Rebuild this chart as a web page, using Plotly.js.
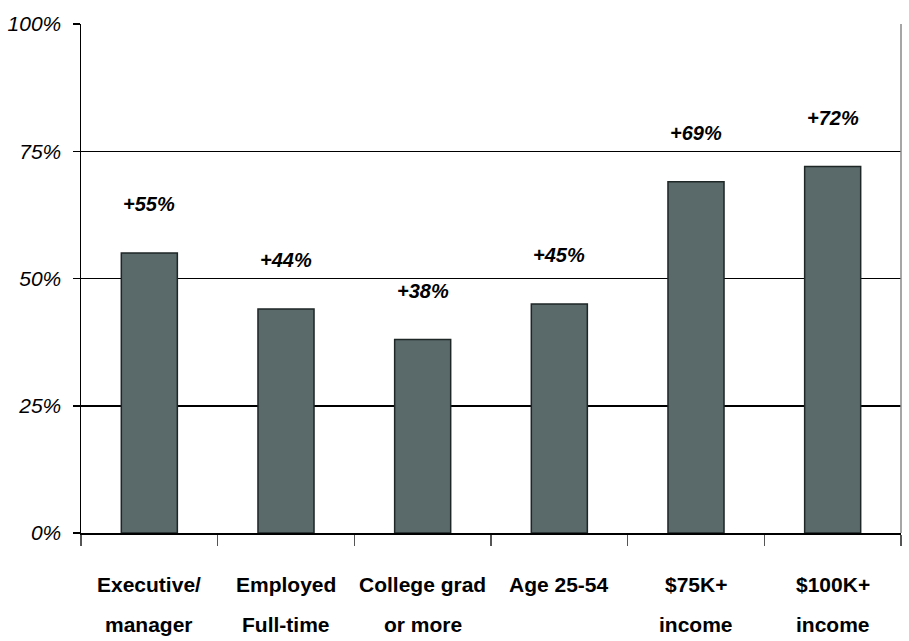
<!DOCTYPE html>
<html>
<head>
<meta charset="utf-8">
<script src="https://cdn.plot.ly/plotly-3.0.1.min.js"></script>
<style>html,body{margin:0;padding:0;background:#fff;}#chart{width:909px;height:641px;}</style>
</head>
<body>
<div id="chart"></div>
<script>
const categories = ["Executive/<br>manager", "Employed<br>Full-time", "College grad<br>or more", "Age 25-54", "$75K+<br>income", "$100K+<br>income"];
const values = [55, 44, 38, 45, 69, 72];
const yTickVals = [0, 25, 50, 75, 100];
const yTickText = ["0%", "25%", "50%", "75%", "100%"];

const FONT = "'Liberation Sans', Arial, sans-serif";

const trace = {
  type: "bar",
  x: categories,
  y: values,
  marker: {color: "#5a6a6b", line: {color: "#1e2626", width: 1.5}},
  hoverinfo: "none"
};

const annotations = values.map((v, i) => ({
  x: categories[i], y: v, xref: "x", yref: "y",
  text: "<b><i>+" + v + "%</i></b>",
  showarrow: false, yanchor: "middle", yshift: 49,
  font: {family: FONT, size: 20, color: "#000"}
}));

// category labels as two lines with wider line spacing
categories.forEach((c) => {
  c.split("<br>").forEach((line, k) => {
    annotations.push({
      x: c, y: 0, xref: "x", yref: "paper",
      text: "<b>" + line + "</b>",
      showarrow: false, yanchor: "middle", yshift: -51 - 40 * k,
      font: {family: FONT, size: 21, color: "#000"}
    });
  });
});

const layout = {
  width: 909, height: 641,
  margin: {l: 81, r: 8, t: 24, b: 108},
  paper_bgcolor: "#fff", plot_bgcolor: "#fff",
  showlegend: false,
  bargap: 0.59,
  xaxis: {
    type: "category",
    tickson: "boundaries",
    ticks: "outside", ticklen: 11, tickcolor: "#555", tickwidth: 1.5,
    showline: true, linecolor: "#000", linewidth: 2,
    showgrid: false, zeroline: false,
    showticklabels: false,
    fixedrange: true
  },
  yaxis: {
    range: [0, 100],
    tickvals: yTickVals, ticktext: yTickText,
    ticks: "outside", ticklen: 7, tickcolor: "#000", tickwidth: 1.5,
    showline: true, linecolor: "#000", linewidth: 1.5,
    showgrid: true, gridcolor: "#000", gridwidth: 1.5,
    zeroline: false,
    tickfont: {family: FONT, size: 21, color: "#000", style: "italic"},
    ticklabelstandoff: 7,
    fixedrange: true
  },
  shapes: [
    {type: "line", xref: "paper", yref: "paper", x0: 1, x1: 1, y0: 0, y1: 1, line: {color: "#888", width: 1.5}}
  ],
  annotations: annotations
};

Plotly.newPlot("chart", [trace], layout, {displayModeBar: false, staticPlot: true});
</script>
</body>
</html>
